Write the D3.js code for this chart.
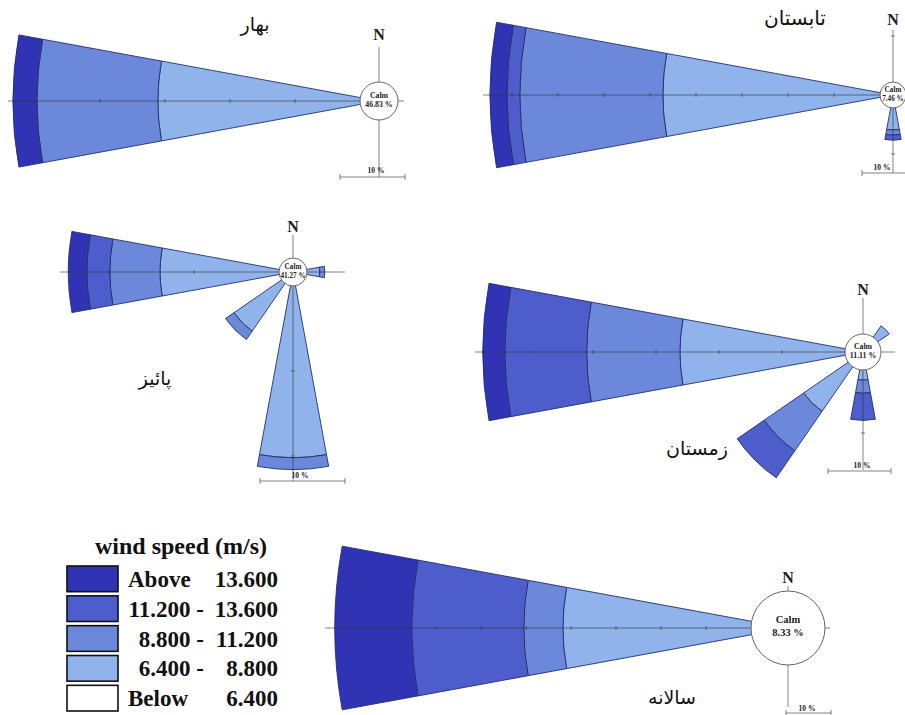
<!DOCTYPE html>
<html><head><meta charset="utf-8">
<script src="https://cdn.jsdelivr.net/npm/d3@7"></script>
<style>
html,body{margin:0;padding:0;background:#fff;}
svg{display:block;}
</style></head>
<body>
<svg id="chart" width="905" height="715"></svg>
<script>
// ---------- DATA ----------
const directions = ["N","NNE","NE","ENE","E","ESE","SE","SSE","S","SSW","SW","WSW","W","WNW","NW","NNW"];
const seasonNames = ["بهار","تابستان","پائیز","زمستان","سالانه"];
const calmPct = [46.83, 7.46, 41.27, 11.11, 8.33];
// band order per petal: 6.4-8.8, 8.8-11.2, 11.2-13.6, above 13.6 (percent)
const springPetals = [["W", 31.1, 18.6, 0.0, 3.7]];
const summerPetals = [["W", 47.2, 31.1, 2.8, 3.7], ["S", 4.8, 1.1, 1.1, 0.0]];
const autumnPetals = [["W", 14.0, 5.9, 2.7, 2.2], ["SW", 6.8, 1.2, 0.0, 0.0], ["S", 20.2, 1.4, 0.0, 0.0], ["E", 1.5, 0.6, 0.0, 0.0]];
const winterPetals = [["W", 26.2, 14.8, 13.0, 3.5], ["SW", 8.6, 7.6, 5.2, 0.0], ["S", 1.6, 2.1, 4.3, 0.0], ["NE", 2.2, 0.0, 0.0, 0.0]];
const annualPetals = [["W", 41.8, 8.7, 24.9, 17.1]];
const legendTitle = "wind speed (m/s)";
const legendLeft = ["Above", "11.200 -", "8.800 -", "6.400 -", "Below"];
const legendRight = ["13.600", "13.600", "11.200", "8.800", "6.400"];
const scaleLabel = "10 %";
const scaleStep = 10;

// ---------- STYLE / LAYOUT ----------
const bandColors = ["#8fb3ea", "#6c88da", "#4e5dcc", "#3033b3"]; // light -> dark
const legendColors = ["#3033b3", "#4e5dcc", "#6c88da", "#8fb3ea", "#ffffff"];
const petalSets = [springPetals, summerPetals, autumnPetals, winterPetals, annualPetals];
const layout = [
  {cx:379, cy:101, rc:19, k:6.5, ax:{n:54,e:25,s:76,w:371}, bar:{x0:340,y:177}, lab:[376,173], title:[255,31], nY:40, fs:7.8},
  {cx:893, cy:95,  rc:13, k:4.6, ax:{n:65,e:14,s:78,w:410}, bar:{x0:862,y:173}, lab:[882,170], title:[795,25], nY:25, fs:7.2},
  {cx:293, cy:272, rc:14, k:8.5, ax:{n:37,e:52,s:209,w:233}, bar:{x0:260,y:481}, lab:[300,478], title:[155,385], nY:232, fs:7.2},
  {cx:863, cy:352, rc:18, k:6.3, ax:{n:54,e:32,s:118,w:388}, bar:{x0:828,y:471}, lab:[862,468], title:[697,455], nY:295, fs:7.8},
  {cx:788, cy:628, rc:37, k:4.5, ax:{n:42,e:42,s:79,w:463}, bar:{x0:786,y:713}, lab:[807,711], title:[672,704], nY:583, fs:10.5}
];
const halfAngle = 10.4 * Math.PI / 180;

const svg = d3.select("#chart");
const arc = d3.arc();

layout.forEach((L, i) => {
  const g = svg.append("g").attr("transform", `translate(${L.cx},${L.cy})`);
  const r = d3.scaleLinear().domain([0, scaleStep]).range([L.rc, L.rc + scaleStep * L.k]);
  // petals
  petalSets[i].forEach(p => {
    const b = directions.indexOf(p[0]) * 22.5 * Math.PI / 180;
    let cum = 0;
    for (let j = 0; j < 4; j++) {
      const v = p[j + 1];
      if (v <= 0) continue;
      const inner = cum === 0 ? 0 : r(cum);
      cum += v;
      g.append("path")
        .attr("d", arc({innerRadius: inner, outerRadius: r(cum), startAngle: b - halfAngle, endAngle: b + halfAngle}))
        .attr("fill", bandColors[j])
        .attr("stroke", "#26306e").attr("stroke-width", 0.9).attr("stroke-linejoin", "round");
    }
  });
  // axes
  const ax = g.append("g").attr("stroke", "#333").attr("stroke-opacity", 0.6).attr("stroke-width", 1);
  ax.append("line").attr("x1", -L.ax.w).attr("x2", L.ax.e).attr("y1", 0).attr("y2", 0);
  ax.append("line").attr("x1", 0).attr("x2", 0).attr("y1", -L.ax.n).attr("y2", L.ax.s);
  const addTicks = (len, dx, dy) => {
    for (let t = scaleStep; r(t) <= len; t += scaleStep) {
      const d = r(t);
      if (dx !== 0) ax.append("line").attr("x1", dx * d).attr("x2", dx * d).attr("y1", -2).attr("y2", 2);
      else ax.append("line").attr("y1", dy * d).attr("y2", dy * d).attr("x1", -2).attr("x2", 2);
    }
  };
  addTicks(L.ax.w, -1, 0); addTicks(L.ax.e, 1, 0); addTicks(L.ax.s, 0, 1); addTicks(L.ax.n, 0, -1);
  // calm circle
  g.append("circle").attr("r", L.rc).attr("fill", "#fff").attr("stroke", "#666").attr("stroke-width", 1);
  g.append("text").attr("y", -L.fs * 0.45).attr("text-anchor", "middle")
    .attr("font-family", "Liberation Serif").attr("font-weight", "bold").attr("font-size", L.fs).attr("fill", "#222")
    .text("Calm");
  g.append("text").attr("y", L.fs * 0.8).attr("text-anchor", "middle")
    .attr("font-family", "Liberation Serif").attr("font-weight", "bold").attr("font-size", L.fs).attr("fill", "#222")
    .text(d3.format(".2f")(calmPct[i]) + " %");
  // N label
  svg.append("text").attr("x", L.cx).attr("y", L.nY).attr("text-anchor", "middle")
    .attr("font-family", "Liberation Serif").attr("font-weight", "bold").attr("font-size", 16).attr("fill", "#222")
    .text("N");
  // scale bar
  const bx1 = L.bar.x0 + (r(scaleStep) - r(0));
  const sb = svg.append("g").attr("stroke", "#333").attr("stroke-opacity", 0.6);
  sb.append("line").attr("x1", L.bar.x0).attr("x2", bx1).attr("y1", L.bar.y).attr("y2", L.bar.y);
  sb.append("line").attr("x1", L.bar.x0).attr("x2", L.bar.x0).attr("y1", L.bar.y - 3).attr("y2", L.bar.y + 3);
  sb.append("line").attr("x1", bx1).attr("x2", bx1).attr("y1", L.bar.y - 3).attr("y2", L.bar.y + 3);
  svg.append("text").attr("x", L.lab[0]).attr("y", L.lab[1]).attr("text-anchor", "middle")
    .attr("font-family", "Liberation Serif").attr("font-weight", "bold").attr("font-size", 7.5).attr("fill", "#222")
    .text(scaleLabel);
  // title
  svg.append("text").attr("x", L.title[0]).attr("y", L.title[1]).attr("text-anchor", "middle")
    .attr("font-family", "DejaVu Sans").attr("font-size", i === 1 ? 20 : 19).attr("fill", "#111")
    .text(seasonNames[i]);
});

// ---------- LEGEND ----------
const lg = svg.append("g");
lg.append("text").attr("x", 181).attr("y", 554).attr("text-anchor", "middle")
  .attr("font-family", "Liberation Serif").attr("font-weight", "bold").attr("font-size", 24).attr("fill", "#111")
  .text(legendTitle);
const ly = d3.scaleBand().domain(d3.range(legendLeft.length)).range([566, 711]).paddingInner(0.14);
legendLeft.forEach((t, i) => {
  lg.append("rect").attr("x", 67).attr("y", ly(i)).attr("width", 51).attr("height", ly.bandwidth())
    .attr("fill", legendColors[i]).attr("stroke", "#111").attr("stroke-width", 1.6);
  const base = ly(i) + ly.bandwidth() / 2 + 8;
  const isWord = (i === 0 || i === legendLeft.length - 1);
  lg.append("text").attr("x", isWord ? 128 : 204).attr("y", base).attr("text-anchor", isWord ? "start" : "end")
    .attr("font-family", "Liberation Serif").attr("font-weight", "bold").attr("font-size", 23).attr("fill", "#111")
    .text(t);
  lg.append("text").attr("x", 278).attr("y", base).attr("text-anchor", "end")
    .attr("font-family", "Liberation Serif").attr("font-weight", "bold").attr("font-size", 23).attr("fill", "#111")
    .text(legendRight[i]);
});
</script>
</body></html>
